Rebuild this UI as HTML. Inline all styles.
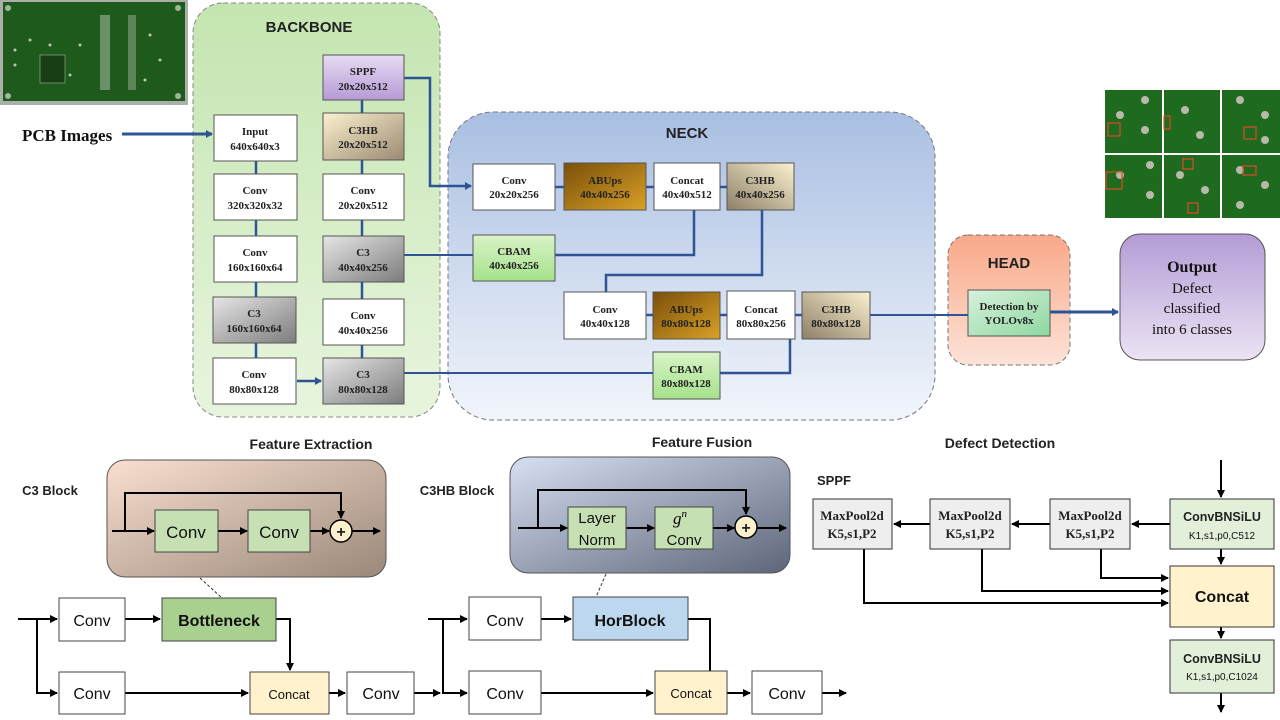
<!DOCTYPE html>
<html><head><meta charset="utf-8"><style>
html,body{margin:0;padding:0;background:#fff;}
svg{display:block}
.s{font-family:"Liberation Serif",serif;font-weight:bold;font-size:11px;fill:#222;text-anchor:middle}
.a{font-family:"Liberation Sans",sans-serif;font-weight:bold;fill:#222;text-anchor:middle}
.n{font-family:"Liberation Sans",sans-serif;fill:#111;text-anchor:middle}
</style></head><body>
<svg width="1280" height="720" viewBox="0 0 1280 720" xmlns="http://www.w3.org/2000/svg">
<defs>
<linearGradient id="gBack" x1="0" y1="0" x2="0" y2="1"><stop offset="0" stop-color="#c4e5b0"/><stop offset="1" stop-color="#e8f5de"/></linearGradient>
<linearGradient id="gNeck" x1="0" y1="0" x2="0" y2="1"><stop offset="0" stop-color="#a9bfe2"/><stop offset="1" stop-color="#f2f5fb"/></linearGradient>
<linearGradient id="gHead" x1="0" y1="0" x2="0" y2="1"><stop offset="0" stop-color="#f9a888"/><stop offset="1" stop-color="#fde3d8"/></linearGradient>
<linearGradient id="gOut" x1="0" y1="0" x2="0" y2="1"><stop offset="0" stop-color="#b39cd6"/><stop offset="1" stop-color="#ebe4f4"/></linearGradient>
<linearGradient id="gGray" x1="0" y1="0" x2="1" y2="1"><stop offset="0" stop-color="#e6e6e6"/><stop offset="1" stop-color="#7c7c7c"/></linearGradient>
<linearGradient id="gSppf" x1="0" y1="0" x2="0" y2="1"><stop offset="0" stop-color="#e7dcf3"/><stop offset="1" stop-color="#b69ad6"/></linearGradient>
<linearGradient id="gC3HB" x1="0" y1="0" x2="1" y2="1"><stop offset="0" stop-color="#fbf1cf"/><stop offset="1" stop-color="#9a8a72"/></linearGradient>
<linearGradient id="gC3HB2" x1="1" y1="0" x2="0" y2="1"><stop offset="0" stop-color="#fbf1cf"/><stop offset="1" stop-color="#8e8068"/></linearGradient>
<linearGradient id="gAB" x1="0" y1="0" x2="1" y2="1"><stop offset="0" stop-color="#7a4f0a"/><stop offset="1" stop-color="#d9a126"/></linearGradient>
<linearGradient id="gCB" x1="0" y1="0" x2="0" y2="1"><stop offset="0" stop-color="#d8f3c8"/><stop offset="1" stop-color="#a6e28b"/></linearGradient>
<linearGradient id="gDet" x1="0" y1="0" x2="1" y2="1"><stop offset="0" stop-color="#d8f1dd"/><stop offset="1" stop-color="#8ed7a0"/></linearGradient>
<linearGradient id="gBrown" x1="0" y1="0" x2="1" y2="1"><stop offset="0" stop-color="#fadfd0"/><stop offset="1" stop-color="#9a8879"/></linearGradient>
<linearGradient id="gBlue" x1="0" y1="0" x2="1" y2="1"><stop offset="0" stop-color="#d6e0f2"/><stop offset="1" stop-color="#5d6679"/></linearGradient>
<marker id="ab" markerWidth="8" markerHeight="8" refX="6" refY="4" orient="auto" markerUnits="userSpaceOnUse"><path d="M0,0L7,4L0,8z" fill="#2f5496"/></marker>
<marker id="ak" markerWidth="9" markerHeight="9" refX="7" refY="4.5" orient="auto" markerUnits="userSpaceOnUse"><path d="M0,0.5L8,4.5L0,8.5z" fill="#000"/></marker>
</defs>

<!-- PCB image top-left -->
<rect x="0" y="0" width="188" height="105" fill="#aab0a8"/>
<rect x="3" y="2" width="182" height="99" fill="#1f5a1d"/>
<g fill="#9fb79a">
<circle cx="8" cy="8" r="3"/><circle cx="178" cy="8" r="3"/><circle cx="8" cy="96" r="3"/><circle cx="178" cy="96" r="3"/>
</g>
<rect x="40" y="55" width="25" height="28" fill="#183e16" stroke="#9fb79a" stroke-width="0.6"/>
<g fill="#b8c8b3">
<rect x="100" y="15" width="10" height="75" opacity="0.5"/><rect x="128" y="15" width="8" height="75" opacity="0.4"/>
<circle cx="30" cy="40" r="1.5"/><circle cx="50" cy="45" r="1.5"/><circle cx="80" cy="45" r="1.5"/><circle cx="150" cy="35" r="1.5"/><circle cx="160" cy="60" r="1.5"/><circle cx="70" cy="75" r="1.5"/><circle cx="145" cy="80" r="1.5"/><circle cx="15" cy="50" r="1.5"/><circle cx="15" cy="65" r="1.5"/>
</g>

<!-- PCB images right -->
<rect x="1105" y="90" width="175" height="128" fill="#1e6a1e"/>
<g stroke="#fff" stroke-width="2"><line x1="1163" y1="90" x2="1163" y2="218"/><line x1="1221" y1="90" x2="1221" y2="218"/><line x1="1105" y1="154" x2="1280" y2="154"/></g>
<g fill="#b9b9a9">
<circle cx="1120" cy="115" r="4"/><circle cx="1145" cy="100" r="4"/><circle cx="1145" cy="130" r="4"/><circle cx="1185" cy="110" r="4"/><circle cx="1200" cy="135" r="4"/><circle cx="1240" cy="100" r="4"/><circle cx="1265" cy="115" r="4"/><circle cx="1265" cy="140" r="4"/>
<circle cx="1120" cy="175" r="4"/><circle cx="1150" cy="165" r="4"/><circle cx="1150" cy="195" r="4"/><circle cx="1180" cy="175" r="4"/><circle cx="1205" cy="190" r="4"/><circle cx="1240" cy="170" r="4"/><circle cx="1265" cy="185" r="4"/><circle cx="1240" cy="205" r="4"/>
</g>
<g fill="none" stroke="#e04a2a" stroke-width="1.2"><rect x="1108" y="123" width="12" height="13"/><rect x="1164" y="116" width="6" height="13"/><rect x="1244" y="127" width="12" height="12"/><rect x="1106" y="172" width="16" height="17"/><rect x="1183" y="159" width="10" height="10"/><rect x="1243" y="166" width="13" height="9"/><rect x="1188" y="203" width="10" height="10"/></g>

<!-- PCB Images label -->
<text x="22" y="141" font-family="Liberation Serif,serif" font-weight="bold" font-size="17" fill="#111">PCB Images</text>

<!-- Backbone -->
<rect x="193" y="3" width="247" height="414" rx="30" fill="url(#gBack)" stroke="#888" stroke-dasharray="5,3"/>
<text x="309" y="32" class="a" font-size="15">BACKBONE</text>
<line x1="122" y1="134" x2="212" y2="134" stroke="#2f5496" stroke-width="3" marker-end="url(#ab)"/>
<!-- Neck -->
<rect x="448" y="112" width="487" height="308" rx="45" fill="url(#gNeck)" stroke="#777" stroke-dasharray="5,3"/>
<text x="687" y="138" class="a" font-size="15">NECK</text>
<!-- Head -->
<rect x="948" y="235" width="122" height="130" rx="20" fill="url(#gHead)" stroke="#777" stroke-dasharray="5,3"/>
<text x="1009" y="268" class="a" font-size="15">HEAD</text>
<!-- Output -->
<rect x="1120" y="234" width="145" height="126" rx="20" fill="url(#gOut)" stroke="#555"/>
<g font-family="Liberation Serif,serif" font-size="15" fill="#111" text-anchor="middle">
<text x="1192" y="272" font-weight="bold" font-size="16">Output</text>
<text x="1192" y="293">Defect</text>
<text x="1192" y="313">classified</text>
<text x="1192" y="334">into 6 classes</text>
</g>

<!-- blue connectors -->
<g stroke="#2f5496" stroke-width="2.5" fill="none">
<line x1="256" y1="161" x2="256" y2="174"/><line x1="256" y1="220" x2="256" y2="236"/><line x1="256" y1="282" x2="256" y2="297"/><line x1="256" y1="343" x2="256" y2="358"/>
<line x1="297" y1="381" x2="321" y2="381" marker-end="url(#ab)"/>
<line x1="362" y1="358" x2="362" y2="345"/><line x1="362" y1="299" x2="362" y2="282"/><line x1="362" y1="236" x2="362" y2="220"/><line x1="362" y1="174" x2="362" y2="160"/><line x1="362" y1="113" x2="362" y2="100"/>
<polyline points="404,78 430,78 430,186 471,186" marker-end="url(#ab)"/>
<line x1="404" y1="255" x2="473" y2="255" stroke-width="2"/>
<line x1="404" y1="373" x2="653" y2="373" stroke-width="2"/>
<line x1="555" y1="187" x2="564" y2="187"/><line x1="646" y1="187" x2="655" y2="187"/><line x1="720" y1="187" x2="727" y2="187"/>
<polyline points="555,255 694,255 694,210"/>
<polyline points="762,210 762,275 606,275 606,292"/>
<line x1="646" y1="315" x2="653" y2="315"/><line x1="720" y1="315" x2="727" y2="315"/><line x1="795" y1="315" x2="802" y2="315"/>
<polyline points="720,373 790,373 790,339"/>
<line x1="870" y1="315" x2="968" y2="315" stroke-width="2"/>
<line x1="1050" y1="312" x2="1118" y2="312" stroke-width="3" marker-end="url(#ab)"/>
</g>

<!-- backbone boxes -->
<g stroke="#555" stroke-width="1">
<rect x="214" y="115" width="83" height="46" fill="#fff"/>
<rect x="214" y="174" width="83" height="46" fill="#fff"/>
<rect x="214" y="236" width="83" height="46" fill="#fff"/>
<rect x="213" y="297" width="83" height="46" fill="url(#gGray)"/>
<rect x="213" y="358" width="83" height="46" fill="#fff"/>
<rect x="323" y="55" width="81" height="45" fill="url(#gSppf)"/>
<rect x="323" y="113" width="81" height="47" fill="url(#gC3HB)"/>
<rect x="323" y="174" width="81" height="46" fill="#fff"/>
<rect x="323" y="236" width="81" height="46" fill="url(#gGray)"/>
<rect x="323" y="299" width="81" height="46" fill="#fff"/>
<rect x="323" y="358" width="81" height="46" fill="url(#gGray)"/>
<rect x="473" y="164" width="82" height="46" fill="#fff"/>
<rect x="564" y="163" width="82" height="47" fill="url(#gAB)"/>
<rect x="654" y="163" width="66" height="47" fill="#fff"/>
<rect x="727" y="163" width="67" height="47" fill="url(#gC3HB2)"/>
<rect x="473" y="235" width="82" height="46" fill="url(#gCB)"/>
<rect x="564" y="292" width="82" height="47" fill="#fff"/>
<rect x="653" y="292" width="67" height="47" fill="url(#gAB)"/>
<rect x="727" y="291" width="68" height="48" fill="#fff"/>
<rect x="802" y="292" width="68" height="47" fill="url(#gC3HB2)"/>
<rect x="653" y="352" width="67" height="47" fill="url(#gCB)"/>
<rect x="968" y="290" width="82" height="46" fill="url(#gDet)"/>
</g>
<g class="s">
<text class="s" x="255" y="135">Input</text><text class="s" x="255" y="150">640x640x3</text>
<text class="s" x="255" y="194">Conv</text><text class="s" x="255" y="209">320x320x32</text>
<text class="s" x="255" y="256">Conv</text><text class="s" x="255" y="271">160x160x64</text>
<text class="s" x="254" y="317">C3</text><text class="s" x="254" y="332">160x160x64</text>
<text class="s" x="254" y="378">Conv</text><text class="s" x="254" y="393">80x80x128</text>
<text class="s" x="363" y="75">SPPF</text><text class="s" x="363" y="90">20x20x512</text>
<text class="s" x="363" y="134">C3HB</text><text class="s" x="363" y="148">20x20x512</text>
<text class="s" x="363" y="194">Conv</text><text class="s" x="363" y="209">20x20x512</text>
<text class="s" x="363" y="256">C3</text><text class="s" x="363" y="271">40x40x256</text>
<text class="s" x="363" y="319">Conv</text><text class="s" x="363" y="334">40x40x256</text>
<text class="s" x="363" y="378">C3</text><text class="s" x="363" y="393">80x80x128</text>
<text class="s" x="514" y="184">Conv</text><text class="s" x="514" y="198">20x20x256</text>
<text class="s" x="605" y="184">ABUps</text><text class="s" x="605" y="198">40x40x256</text>
<text class="s" x="687" y="184">Concat</text><text class="s" x="687" y="198">40x40x512</text>
<text class="s" x="760" y="184">C3HB</text><text class="s" x="760" y="198">40x40x256</text>
<text class="s" x="514" y="255">CBAM</text><text class="s" x="514" y="269">40x40x256</text>
<text class="s" x="605" y="313">Conv</text><text class="s" x="605" y="327">40x40x128</text>
<text class="s" x="686" y="313">ABUps</text><text class="s" x="686" y="327">80x80x128</text>
<text class="s" x="761" y="313">Concat</text><text class="s" x="761" y="327">80x80x256</text>
<text class="s" x="836" y="313">C3HB</text><text class="s" x="836" y="327">80x80x128</text>
<text class="s" x="686" y="373">CBAM</text><text class="s" x="686" y="387">80x80x128</text>
<text class="s" x="1009" y="310">Detection by</text><text class="s" x="1009" y="324">YOLOv8x</text>
</g>

<!-- section titles -->
<text x="311" y="449" class="a" font-size="14">Feature Extraction</text>
<text x="702" y="447" class="a" font-size="14">Feature Fusion</text>
<text x="1000" y="448" class="a" font-size="14">Defect Detection</text>
<text x="50" y="495" class="a" font-size="13">C3 Block</text>
<text x="457" y="495" class="a" font-size="13">C3HB Block</text>
<text x="834" y="485" class="a" font-size="13">SPPF</text>

<!-- C3 block panel -->
<rect x="107" y="460" width="279" height="117" rx="18" fill="url(#gBrown)" stroke="#555"/>
<g stroke="#000" stroke-width="2" fill="none">
<line x1="112" y1="531" x2="154" y2="531" marker-end="url(#ak)"/>
<polyline points="125,531 125,493 341,493 341,518" marker-end="url(#ak)"/>
<line x1="218" y1="531" x2="247" y2="531" marker-end="url(#ak)"/>
<line x1="310" y1="531" x2="329" y2="531" marker-end="url(#ak)"/>
<line x1="352" y1="531" x2="380" y2="531" marker-end="url(#ak)"/>
</g>
<rect x="155" y="510" width="63" height="42" fill="#c6e0b4" stroke="#444"/>
<rect x="248" y="510" width="62" height="42" fill="#c6e0b4" stroke="#444"/>
<text x="186" y="538" class="n" font-size="17">Conv</text><text x="279" y="538" class="n" font-size="17">Conv</text>
<circle cx="341" cy="531" r="11" fill="#fdf0cc" stroke="#000" stroke-width="1.5"/>
<text x="341" y="537" class="a" font-size="16" fill="#000">+</text>
<line x1="200" y1="578" x2="222" y2="598" stroke="#333" stroke-dasharray="3,2"/>

<!-- C3 bottom -->
<g stroke="#000" stroke-width="2" fill="none">
<line x1="18" y1="619" x2="57" y2="619" marker-end="url(#ak)"/>
<polyline points="37,619 37,693 57,693" marker-end="url(#ak)"/>
<line x1="125" y1="619" x2="160" y2="619" marker-end="url(#ak)"/>
<polyline points="276,619 290,619 290,670" marker-end="url(#ak)"/>
<line x1="125" y1="693" x2="248" y2="693" marker-end="url(#ak)"/>
<line x1="329" y1="693" x2="345" y2="693" marker-end="url(#ak)"/>
<line x1="414" y1="693" x2="440" y2="693" marker-end="url(#ak)"/>
</g>
<rect x="59" y="598" width="66" height="43" fill="#fff" stroke="#444"/>
<rect x="162" y="598" width="114" height="43" fill="#a9d08e" stroke="#444"/>
<rect x="59" y="672" width="66" height="42" fill="#fff" stroke="#444"/>
<rect x="250" y="672" width="79" height="42" fill="#fff2cc" stroke="#444"/>
<rect x="347" y="672" width="67" height="42" fill="#fff" stroke="#444"/>
<text x="92" y="626" class="n" font-size="16">Conv</text>
<text x="219" y="626" class="n" font-size="16" font-weight="bold">Bottleneck</text>
<text x="92" y="699" class="n" font-size="16">Conv</text>
<text x="289" y="699" class="n" font-size="13">Concat</text>
<text x="381" y="699" class="n" font-size="16">Conv</text>

<!-- C3HB panel -->
<rect x="510" y="457" width="280" height="116" rx="18" fill="url(#gBlue)" stroke="#555"/>
<g stroke="#000" stroke-width="2" fill="none">
<line x1="518" y1="528" x2="567" y2="528" marker-end="url(#ak)"/>
<polyline points="538,528 538,490 746,490 746,514" marker-end="url(#ak)"/>
<line x1="626" y1="528" x2="654" y2="528" marker-end="url(#ak)"/>
<line x1="713" y1="528" x2="734" y2="528" marker-end="url(#ak)"/>
<line x1="757" y1="528" x2="786" y2="528" marker-end="url(#ak)"/>
</g>
<rect x="568" y="507" width="58" height="42" fill="#c6e0b4" stroke="#444"/>
<rect x="655" y="507" width="58" height="42" fill="#c6e0b4" stroke="#444"/>
<text x="597" y="523" class="n" font-size="15">Layer</text><text x="597" y="545" class="n" font-size="15">Norm</text>
<text x="680" y="524" font-family="Liberation Serif,serif" font-style="italic" font-size="17" text-anchor="middle">g<tspan font-size="11" dy="-7">n</tspan></text>
<text x="684" y="545" class="n" font-size="15">Conv</text>
<circle cx="746" cy="527" r="11" fill="#fdf0cc" stroke="#000" stroke-width="1.5"/>
<text x="746" y="533" class="a" font-size="16" fill="#000">+</text>
<line x1="606" y1="574" x2="596" y2="597" stroke="#333" stroke-dasharray="3,2"/>

<!-- C3HB bottom -->
<g stroke="#000" stroke-width="2" fill="none">
<line x1="428" y1="619" x2="467" y2="619" marker-end="url(#ak)"/>
<polyline points="443,619 443,693 467,693" marker-end="url(#ak)"/>
<line x1="541" y1="619" x2="571" y2="619" marker-end="url(#ak)"/>
<polyline points="688,619 710,619 710,671"/>
<line x1="541" y1="693" x2="653" y2="693" marker-end="url(#ak)"/>
<line x1="727" y1="693" x2="750" y2="693" marker-end="url(#ak)"/>
<line x1="822" y1="693" x2="846" y2="693" marker-end="url(#ak)"/>
</g>
<rect x="469" y="597" width="72" height="43" fill="#fff" stroke="#444"/>
<rect x="573" y="597" width="115" height="43" fill="#bdd7ee" stroke="#444"/>
<rect x="469" y="671" width="72" height="43" fill="#fff" stroke="#444"/>
<rect x="655" y="671" width="72" height="43" fill="#fff2cc" stroke="#444"/>
<rect x="752" y="671" width="70" height="43" fill="#fff" stroke="#444"/>
<text x="505" y="626" class="n" font-size="16">Conv</text>
<text x="630" y="626" class="n" font-size="16" font-weight="bold">HorBlock</text>
<text x="505" y="699" class="n" font-size="16">Conv</text>
<text x="691" y="698" class="n" font-size="13">Concat</text>
<text x="787" y="699" class="n" font-size="16">Conv</text>

<!-- SPPF -->
<g stroke="#000" stroke-width="2" fill="none">
<line x1="1221" y1="460" x2="1221" y2="497" marker-end="url(#ak)"/>
<line x1="1170" y1="524" x2="1132" y2="524" marker-end="url(#ak)"/>
<line x1="1050" y1="524" x2="1012" y2="524" marker-end="url(#ak)"/>
<line x1="930" y1="524" x2="894" y2="524" marker-end="url(#ak)"/>
<line x1="1221" y1="549" x2="1221" y2="564" marker-end="url(#ak)"/>
<polyline points="1101,549 1101,578 1168,578" marker-end="url(#ak)"/>
<polyline points="982,549 982,591 1168,591" marker-end="url(#ak)"/>
<polyline points="864,549 864,603 1168,603" marker-end="url(#ak)"/>
<line x1="1221" y1="627" x2="1221" y2="638" marker-end="url(#ak)"/>
<line x1="1221" y1="693" x2="1221" y2="712" marker-end="url(#ak)"/>
</g>
<g stroke="#333" stroke-width="1">
<rect x="813" y="499" width="79" height="50" fill="#eeeeee"/>
<rect x="930" y="499" width="80" height="50" fill="#eeeeee"/>
<rect x="1050" y="499" width="80" height="50" fill="#eeeeee"/>
<rect x="1170" y="499" width="104" height="50" fill="#e2efd9"/>
<rect x="1170" y="566" width="104" height="61" fill="#fff2cc"/>
<rect x="1170" y="640" width="104" height="53" fill="#e2efd9"/>
</g>
<g font-family="Liberation Serif,serif" font-weight="bold" font-size="13" fill="#222" text-anchor="middle">
<text x="852" y="520">MaxPool2d</text><text x="852" y="538">K5,s1,P2</text>
<text x="970" y="520">MaxPool2d</text><text x="970" y="538">K5,s1,P2</text>
<text x="1090" y="520">MaxPool2d</text><text x="1090" y="538">K5,s1,P2</text>
</g>
<text x="1222" y="521" class="a" font-size="12.5">ConvBNSiLU</text>
<text x="1222" y="539" class="n" font-size="10">K1,s1,p0,C512</text>
<text x="1222" y="602" class="n" font-size="16" font-weight="bold">Concat</text>
<text x="1222" y="663" class="a" font-size="12.5">ConvBNSiLU</text>
<text x="1222" y="680" class="n" font-size="10">K1,s1,p0,C1024</text>
</svg>
</body></html>
